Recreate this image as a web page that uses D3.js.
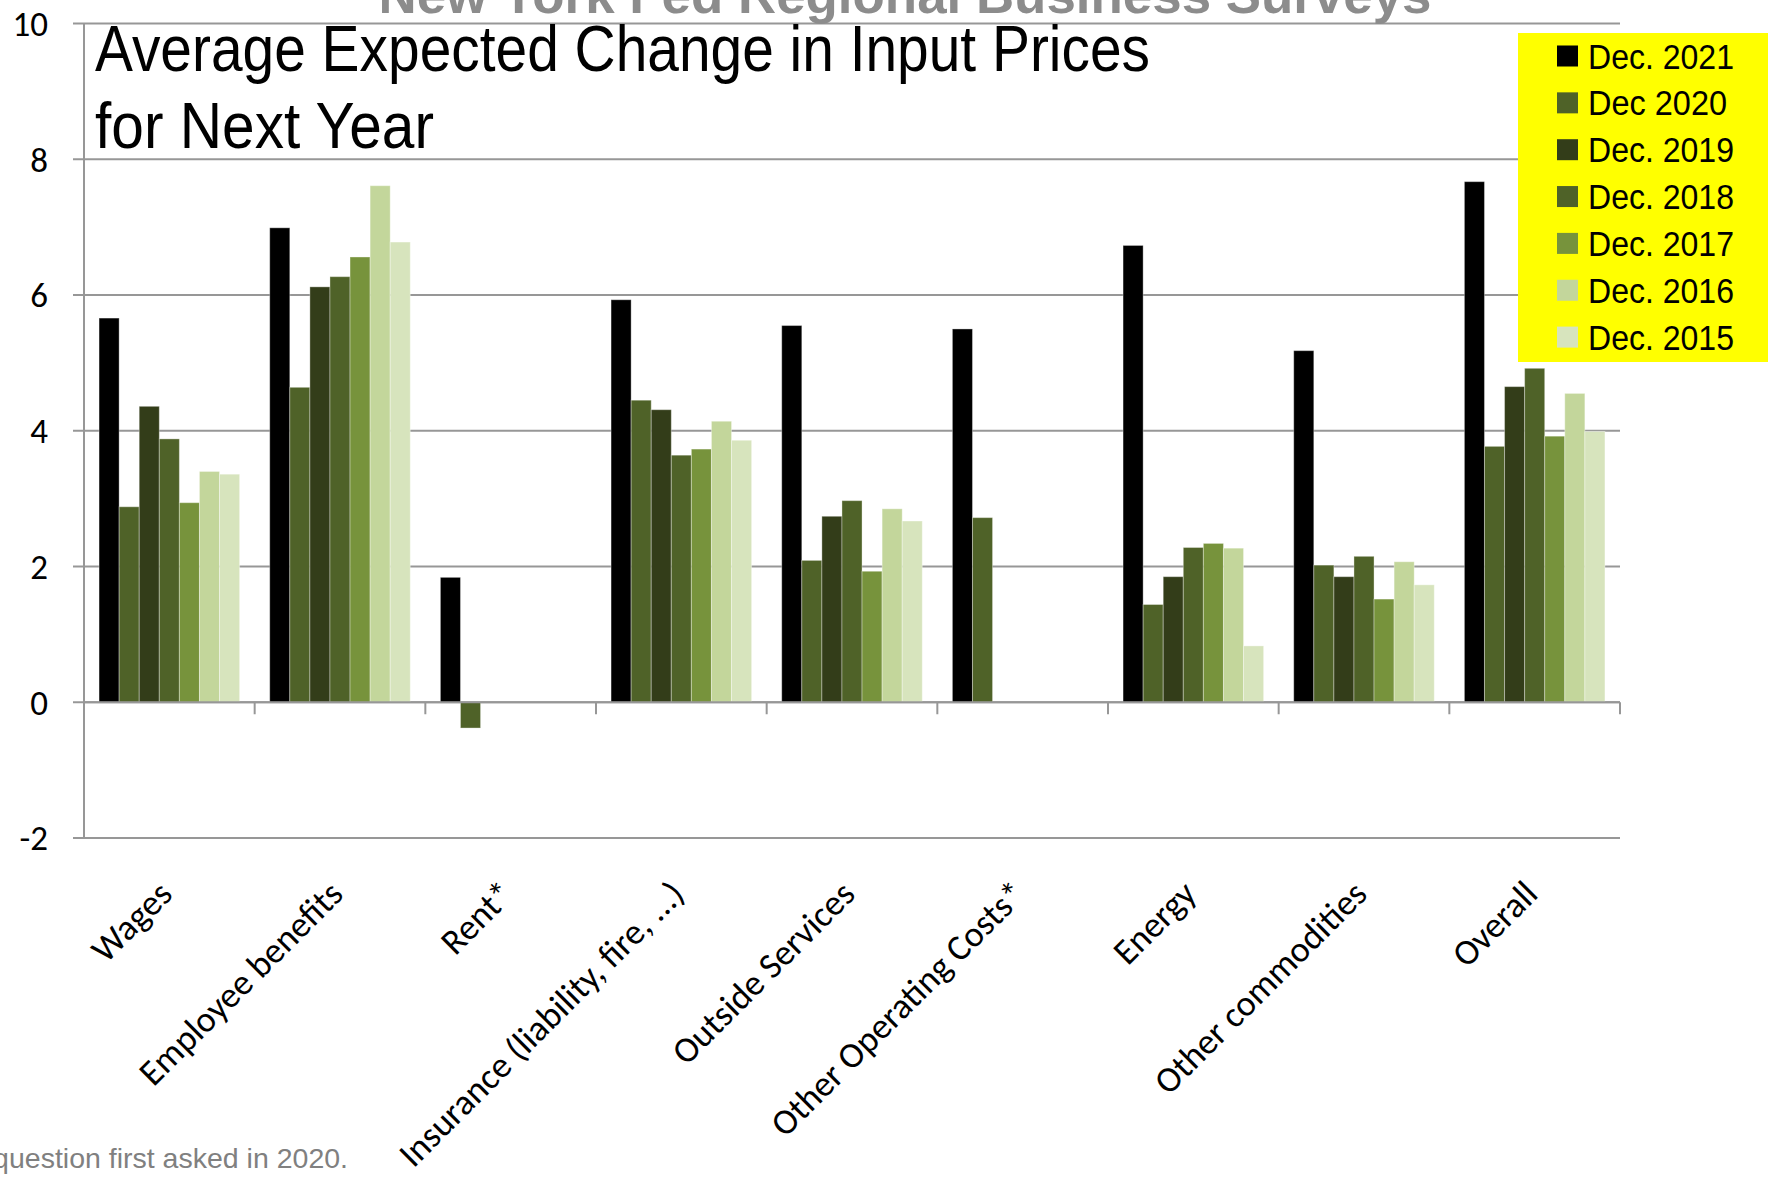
<!DOCTYPE html>
<html>
<head>
<meta charset="utf-8">
<script src="https://cdn.jsdelivr.net/npm/d3@7"></script>
<style>
body { margin: 0; background: #fff; }
svg { display: block; }
</style>
</head>
<body>
<svg width="1768" height="1179"></svg>
<script>
// categories and series
var categories = ["Wages", "Employee benefits", "Rent*", "Insurance (liability, fire, ...)",
	"Outside Services", "Other Operating Costs*", "Energy", "Other commodities", "Overall"];
var seriesNames = ["Dec. 2021", "Dec 2020", "Dec. 2019", "Dec. 2018", "Dec. 2017", "Dec. 2016", "Dec. 2015"];
var dec2021 = [5.66, 6.99, 1.84, 5.93, 5.55, 5.50, 6.73, 5.18, 7.67];
var dec2020 = [2.88, 4.64, -0.38, 4.45, 2.09, 2.72, 1.44, 2.02, 3.77];
var dec2019 = [4.36, 6.12, null, 4.31, 2.74, null, 1.85, 1.85, 4.65];
var dec2018 = [3.88, 6.27, null, 3.64, 2.97, null, 2.28, 2.15, 4.92];
var dec2017 = [2.94, 6.56, null, 3.73, 1.93, null, 2.34, 1.52, 3.92];
var dec2016 = [3.40, 7.61, null, 4.14, 2.85, null, 2.27, 2.07, 4.55];
var dec2015 = [3.36, 6.78, null, 3.86, 2.67, null, 0.83, 1.73, 3.99];
var seriesValues = [dec2021, dec2020, dec2019, dec2018, dec2017, dec2016, dec2015];
var seriesColors = ["#000000", "#4f6228", "#333d19", "#4f6228", "#77933c", "#c3d69b", "#d7e4bd"];
var yTicks = [-2, 0, 2, 4, 6, 8, 10];

var svg = d3.select("svg");
var plotLeft = 84, plotRight = 1620, plotTop = 23.5, plotBottom = 838;
var labelFont = "Carlito, Calibri, Lato, sans-serif";

var y = d3.scaleLinear().domain([-2, 10]).range([plotBottom, plotTop]);
var x0 = d3.scaleBand().domain(categories).range([plotLeft, plotRight]);
var x1 = d3.scaleBand().domain(seriesNames).range([0, x0.bandwidth()]).paddingOuter(0.75);

// gridlines (they run out past the axis as tick marks)
svg.append("g")
	.selectAll("line")
	.data(yTicks)
	.join("line")
	.attr("x1", plotLeft - 11)
	.attr("x2", plotRight)
	.attr("y1", function(d) { return y(d); })
	.attr("y2", function(d) { return y(d); })
	.attr("stroke", "#979797")
	.attr("stroke-width", 2);

// y tick labels
svg.append("g")
	.selectAll("text")
	.data(yTicks)
	.join("text")
	.attr("x", 48)
	.attr("y", function(d) { return y(d); })
	.attr("dy", "0.35em")
	.attr("text-anchor", "end")
	.style("font-family", labelFont)
	.style("font-size", "35px")
	.text(function(d) { return d; });

// bars
var groups = svg.append("g")
	.selectAll("g")
	.data(categories)
	.join("g")
	.attr("transform", function(c) { return "translate(" + x0(c) + ",0)"; });

groups.selectAll("rect")
	.data(function(c, i) {
		return seriesNames.map(function(s, j) { return {s: s, v: seriesValues[j][i], col: seriesColors[j]}; })
			.filter(function(d) { return d.v !== null; });
	})
	.join("rect")
	.attr("x", function(d) { return x1(d.s); })
	.attr("width", x1.bandwidth())
	.attr("y", function(d) { return y(Math.max(0, d.v)); })
	.attr("height", function(d) { return Math.abs(y(d.v) - y(0)); })
	.attr("fill", function(d) { return d.col; })
	.attr("stroke", "#ffffff")
	.attr("stroke-opacity", 0.35)
	.attr("stroke-width", 1);

// value axis line
svg.append("line")
	.attr("x1", plotLeft).attr("x2", plotLeft)
	.attr("y1", plotTop).attr("y2", plotBottom)
	.attr("stroke", "#979797").attr("stroke-width", 2);

// category axis at zero with ticks between groups
svg.append("line")
	.attr("x1", plotLeft).attr("x2", plotRight)
	.attr("y1", y(0)).attr("y2", y(0))
	.attr("stroke", "#979797").attr("stroke-width", 2);
svg.append("g")
	.selectAll("line")
	.data(categories)
	.join("line")
	.attr("x1", function(c) { return x0(c) + x0.bandwidth(); })
	.attr("x2", function(c) { return x0(c) + x0.bandwidth(); })
	.attr("y1", y(0))
	.attr("y2", y(0) + 12)
	.attr("stroke", "#979797").attr("stroke-width", 2);

// rotated category labels below the plot
svg.append("g")
	.selectAll("text")
	.data(categories)
	.join("text")
	.attr("transform", function(c) {
		return "translate(" + (x0(c) + x0.bandwidth() / 2 + 5) + "," + 896 + ") rotate(-45)";
	})
	.attr("text-anchor", "end")
	.style("font-family", labelFont)
	.style("font-size", "36px")
	.text(function(c) { return c; });

// cut-off heading at the top
svg.append("text")
	.attr("x", 905)
	.attr("y", 13)
	.attr("text-anchor", "middle")
	.attr("textLength", 1053)
	.attr("lengthAdjust", "spacingAndGlyphs")
	.style("font-family", "'Liberation Sans', Arial, sans-serif")
	.style("font-weight", "bold")
	.style("font-size", "52px")
	.style("fill", "#8c8c8c")
	.text("New York Fed Regional Business Surveys");

// title
var titleLines = ["Average Expected Change in Input Prices", "for Next Year"];
var titleWidths = [1055, 339];
svg.append("g")
	.selectAll("text")
	.data(titleLines)
	.join("text")
	.attr("x", 95)
	.attr("y", function(d, i) { return 71 + i * 77; })
	.attr("textLength", function(d, i) { return titleWidths[i]; })
	.attr("lengthAdjust", "spacingAndGlyphs")
	.style("font-family", "'Liberation Sans Narrow', 'Arial Narrow', 'Liberation Sans', sans-serif")
	.style("font-size", "64px")
	.text(function(d) { return d; });

// legend
var legend = svg.append("g");
legend.append("rect")
	.attr("x", 1518).attr("y", 33)
	.attr("width", 250).attr("height", 329)
	.attr("fill", "#ffff00");
var rows = legend.selectAll("g.row")
	.data(seriesNames)
	.join("g")
	.attr("class", "row")
	.attr("transform", function(d, i) { return "translate(0," + (56 + i * 46.85) + ")"; });
rows.append("rect")
	.attr("x", 1557).attr("y", -10.5)
	.attr("width", 21).attr("height", 21)
	.attr("fill", function(d, i) { return seriesColors[i]; });
rows.append("text")
	.attr("x", 1588)
	.attr("dy", "0.36em")
	.attr("textLength", function(d) { return d.indexOf(".") > 0 ? 146 : 139; })
	.attr("lengthAdjust", "spacingAndGlyphs")
	.style("font-family", "'Liberation Sans', Arial, sans-serif")
	.style("font-size", "35px")
	.text(function(d) { return d; });

// footnote, cut at the left edge
svg.append("text")
	.attr("x", 348)
	.attr("y", 1168)
	.attr("text-anchor", "end")
	.style("font-family", "'Liberation Sans', Arial, sans-serif")
	.style("font-size", "28.5px")
	.style("fill", "#808080")
	.text("question first asked in 2020.");
</script>
</body>
</html>
